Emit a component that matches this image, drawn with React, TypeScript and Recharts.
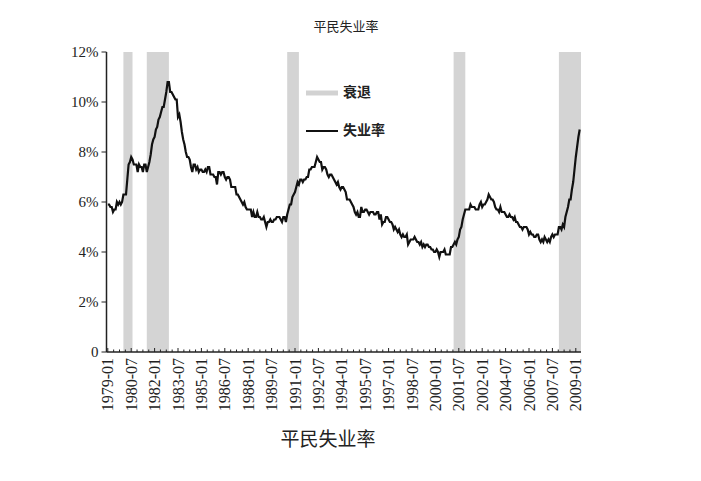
import React from 'react';
import { ComposedChart, Line, XAxis, YAxis, ReferenceArea, Legend } from 'recharts';

const startYear = 1979;
// US civilian unemployment rate, monthly, 1979-01 .. 2009-04 (%)
const unemploymentRate: number[] = [
  // 1979
  5.9, 5.9, 5.8, 5.8, 5.6, 5.7, 5.7, 6.0, 5.9, 6.0, 5.9, 6.0,
  // 1980
  6.3, 6.3, 6.3, 6.9, 7.5, 7.6, 7.8, 7.7, 7.5, 7.5, 7.5, 7.2,
  // 1981
  7.5, 7.4, 7.4, 7.2, 7.5, 7.5, 7.2, 7.4, 7.6, 7.9, 8.3, 8.5,
  // 1982
  8.6, 8.9, 9.0, 9.3, 9.4, 9.6, 9.8, 9.8, 10.1, 10.4, 10.8, 10.8,
  // 1983
  10.4, 10.4, 10.3, 10.2, 10.1, 10.1, 9.4, 9.5, 9.2, 8.8, 8.5, 8.3,
  // 1984
  8.0, 7.8, 7.8, 7.7, 7.4, 7.2, 7.5, 7.5, 7.3, 7.4, 7.2, 7.3,
  // 1985
  7.3, 7.2, 7.2, 7.3, 7.2, 7.4, 7.4, 7.1, 7.1, 7.1, 7.0, 7.0,
  // 1986
  6.7, 7.2, 7.2, 7.1, 7.2, 7.2, 7.0, 6.9, 7.0, 7.0, 6.9, 6.6,
  // 1987
  6.6, 6.6, 6.6, 6.3, 6.3, 6.2, 6.1, 6.0, 5.9, 6.0, 5.8, 5.7,
  // 1988
  5.7, 5.7, 5.7, 5.4, 5.6, 5.4, 5.4, 5.6, 5.4, 5.4, 5.3, 5.3,
  // 1989
  5.4, 5.2, 5.0, 5.2, 5.2, 5.3, 5.2, 5.2, 5.3, 5.3, 5.4, 5.4,
  // 1990
  5.4, 5.3, 5.2, 5.4, 5.4, 5.2, 5.5, 5.7, 5.9, 5.9, 6.2, 6.3,
  // 1991
  6.4, 6.6, 6.8, 6.7, 6.9, 6.9, 6.8, 6.9, 6.9, 7.0, 7.0, 7.3,
  // 1992
  7.3, 7.4, 7.4, 7.4, 7.6, 7.8, 7.7, 7.6, 7.6, 7.3, 7.4, 7.4,
  // 1993
  7.3, 7.1, 7.0, 7.1, 7.1, 7.0, 6.9, 6.8, 6.7, 6.8, 6.6, 6.5,
  // 1994
  6.6, 6.6, 6.5, 6.4, 6.1, 6.1, 6.1, 6.0, 5.9, 5.8, 5.6, 5.5,
  // 1995
  5.6, 5.4, 5.4, 5.8, 5.6, 5.6, 5.7, 5.7, 5.6, 5.5, 5.6, 5.6,
  // 1996
  5.6, 5.5, 5.5, 5.6, 5.6, 5.3, 5.5, 5.1, 5.2, 5.2, 5.4, 5.4,
  // 1997
  5.3, 5.2, 5.2, 5.1, 4.9, 5.0, 4.9, 4.8, 4.9, 4.7, 4.6, 4.7,
  // 1998
  4.6, 4.6, 4.7, 4.3, 4.4, 4.5, 4.5, 4.5, 4.6, 4.5, 4.4, 4.4,
  // 1999
  4.3, 4.4, 4.2, 4.3, 4.2, 4.3, 4.3, 4.2, 4.2, 4.1, 4.1, 4.0,
  // 2000
  4.0, 4.1, 4.0, 3.8, 4.0, 4.0, 4.0, 4.1, 3.9, 3.9, 3.9, 3.9,
  // 2001
  4.2, 4.2, 4.3, 4.4, 4.3, 4.5, 4.6, 4.9, 5.0, 5.3, 5.5, 5.7,
  // 2002
  5.7, 5.7, 5.7, 5.9, 5.8, 5.8, 5.8, 5.7, 5.7, 5.7, 5.9, 6.0,
  // 2003
  5.8, 5.9, 5.9, 6.0, 6.1, 6.3, 6.2, 6.1, 6.1, 6.0, 5.8, 5.7,
  // 2004
  5.7, 5.6, 5.8, 5.6, 5.6, 5.6, 5.5, 5.4, 5.4, 5.5, 5.4, 5.4,
  // 2005
  5.3, 5.4, 5.2, 5.2, 5.1, 5.0, 5.0, 4.9, 5.0, 5.0, 5.0, 4.9,
  // 2006
  4.7, 4.8, 4.7, 4.7, 4.6, 4.6, 4.7, 4.7, 4.5, 4.4, 4.5, 4.4,
  // 2007
  4.6, 4.5, 4.4, 4.5, 4.4, 4.6, 4.7, 4.6, 4.7, 4.7, 4.7, 5.0,
  // 2008
  5.0, 4.9, 5.1, 5.0, 5.4, 5.6, 5.8, 6.1, 6.1, 6.5, 6.8, 7.3,
  // 2009
  7.8, 8.2, 8.6, 8.9,
];

const recessionStarts = ['1980-01', '1981-07', '1990-07', '2001-03', '2007-12'];
const recessionEnds = ['1980-08', '1982-12', '1991-04', '2001-12', '2009-06'];

const xTickLabels = [
  '1979-01', '1980-07', '1982-01', '1983-07', '1985-01', '1986-07', '1988-01',
  '1989-07', '1991-01', '1992-07', '1994-01', '1995-07', '1997-01', '1998-07',
  '2000-01', '2001-07', '2002-01', '2004-07', '2006-01', '2007-07', '2009-01',
];
const yTicks = [0, 2, 4, 6, 8, 10, 12];

const LABEL_STEP = 18;
const MINOR_STEP = 4.5;
const X_MIN = -1;
const X_MAX = unemploymentRate.length;

const monthIndex = (s: string) => {
  const [y, m] = s.split('-').map(Number);
  return (y - startYear) * 12 + (m - 1);
};

const data = unemploymentRate.map((v, i) => ({ i, rate: v }));

const allTicks: number[] = [];
for (let t = 0; t <= (xTickLabels.length - 1) * LABEL_STEP; t += MINOR_STEP) allTicks.push(t);

const serif = '"Liberation Serif", "Times New Roman", "Noto Sans CJK SC", serif';
const cjk = '"Liberation Serif", "Noto Sans CJK SC", serif';

const XTick = (props: any) => {
  const { x, y, payload } = props;
  const v = payload.value as number;
  const isMajor = Math.abs(v / LABEL_STEP - Math.round(v / LABEL_STEP)) < 1e-6;
  const label = isMajor ? xTickLabels[Math.round(v / LABEL_STEP)] : null;
  return (
    <g>
      <line x1={x} x2={x} y1={y} y2={y - (isMajor ? 4 : 2.5)} stroke="#222" strokeWidth={1} />
      {label && (
        <text
          x={0}
          y={0}
          transform={`translate(${x},${y + 6}) rotate(-90)`}
          textAnchor="end"
          dy="0.35em"
          fontFamily={serif}
          fontSize={16}
          fill="#222"
        >
          {label}
        </text>
      )}
    </g>
  );
};

const LegendContent = () => (
  <div style={{ fontFamily: cjk, fontSize: 14, color: '#222', lineHeight: '20px' }}>
    <div style={{ display: 'flex', alignItems: 'center', height: 20 }}>
      <svg width={32} height={10} style={{ marginRight: 5 }}>
        <line x1={0} x2={32} y1={5} y2={5} stroke="#d2d2d2" strokeWidth={5} />
      </svg>
      <span style={{ fontWeight: 'bold' }}>衰退</span>
    </div>
    <div style={{ display: 'flex', alignItems: 'center', height: 20, marginTop: 18 }}>
      <svg width={32} height={10} style={{ marginRight: 5 }}>
        <line x1={0} x2={32} y1={5} y2={5} stroke="#111" strokeWidth={2} />
      </svg>
      <span style={{ fontWeight: 'bold' }}>失业率</span>
    </div>
  </div>
);

export default function App() {
  return (
    <div style={{ position: 'absolute', left: 0, top: 0, width: 701, height: 481, background: '#fff' }}>
      <div
        style={{
          position: 'absolute', left: 0, width: 692, top: 18, textAlign: 'center',
          fontFamily: cjk, fontSize: 13, color: '#222', lineHeight: '18px',
        }}
      >
        平民失业率
      </div>
      <ComposedChart
        width={701}
        height={481}
        data={data}
        margin={{ top: 52, right: 120, bottom: 0, left: 0 }}
      >
        {recessionStarts.map((s, k) => (
          <ReferenceArea
            key={s}
            x1={monthIndex(s)}
            x2={Math.min(monthIndex(recessionEnds[k]), X_MAX)}
            y1={0}
            y2={12}
            fill="#d4d4d4"
            fillOpacity={1}
            stroke="none"
            ifOverflow="hidden"
          />
        ))}
        <XAxis
          dataKey="i"
          type="number"
          domain={[X_MIN, X_MAX]}
          ticks={allTicks}
          interval={0}
          height={129}
          tickSize={0}
          tickMargin={0}
          tickLine={false}
          axisLine={{ stroke: '#222', strokeWidth: 1.5 }}
          tick={<XTick />}
          allowDataOverflow
        />
        <XAxis
          xAxisId="top"
          orientation="top"
          dataKey="i"
          type="number"
          domain={[X_MIN, X_MAX]}
          height={0}
          tick={false}
          tickLine={false}
          axisLine={{ stroke: '#222', strokeWidth: 1.5 }}
        />
        <YAxis
          type="number"
          domain={[0, 12]}
          ticks={yTicks}
          interval={0}
          width={106.5}
          tickSize={5}
          tickMargin={3}
          tickLine={{ stroke: '#222' }}
          axisLine={{ stroke: '#222', strokeWidth: 1.5 }}
          tickFormatter={(v: number) => (v === 0 ? '0' : `${v}%`)}
          tick={{ fill: '#222', fontFamily: serif, fontSize: 15 }}
          allowDataOverflow
        />
        <YAxis
          yAxisId="right"
          orientation="right"
          type="number"
          domain={[0, 12]}
          width={0}
          tick={false}
          tickLine={false}
          axisLine={{ stroke: '#222', strokeWidth: 1.5 }}
        />
        <Line
          type="linear"
          dataKey="rate"
          stroke="#111"
          strokeWidth={2.2}
          dot={false}
          isAnimationActive={false}
        />
        <Legend
          layout="horizontal"
          verticalAlign="middle"
          align="center"
          content={<LegendContent />}
          wrapperStyle={{ left: 306, top: 83, width: 120, height: 70 }}
        />
      </ComposedChart>
      <div
        style={{
          position: 'absolute', left: 0, width: 656, top: 428, textAlign: 'center',
          fontFamily: cjk, fontSize: 19, color: '#222', lineHeight: '24px',
        }}
      >
        平民失业率
      </div>
    </div>
  );
}
